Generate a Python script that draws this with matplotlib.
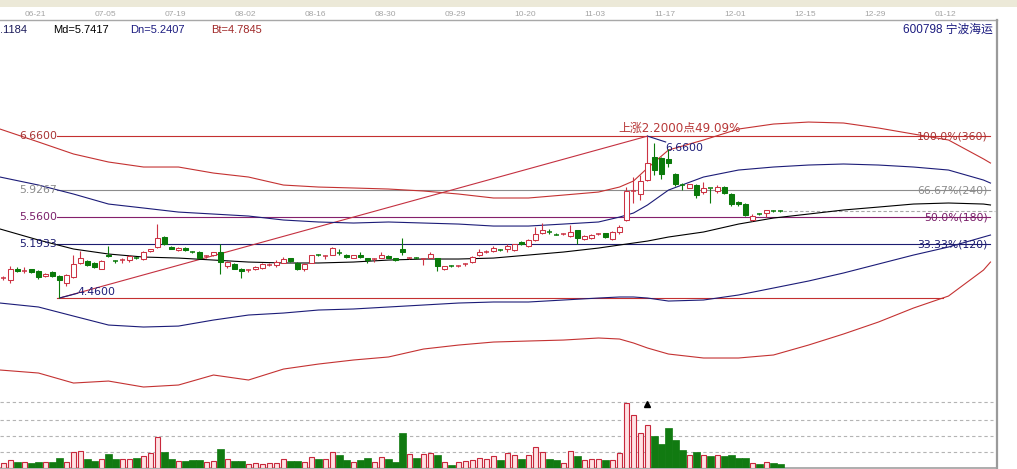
import matplotlib
matplotlib.use('Agg')
import matplotlib.pyplot as plt
import matplotlib.transforms as mtransforms
import numpy as np

W, H, DPI = 1017, 469, 100

# ---------------- data ----------------
date_labels = ['06-21', '07-05', '07-19', '08-02', '08-16', '08-30', '09-29',
               '10-20', '11-03', '11-17', '12-01', '12-15', '12-29', '01-12']

opens = [4.72, 4.70, 4.85, 4.82, 4.85, 4.83, 4.76, 4.82, 4.76, 4.66,
         4.74, 4.93, 4.96, 4.94, 4.86, 5.05, 4.97, 4.97, 4.98, 5.01,
         4.99, 5.10, 5.15, 5.29, 5.16, 5.11, 5.14, 5.09, 5.09, 5.02,
         5.04, 5.08, 4.90, 4.92, 4.86, 4.83, 4.85, 4.87, 4.90, 4.91,
         4.94, 5.00, 4.94, 4.85, 4.94, 5.05, 5.02, 5.05, 5.08, 5.05,
         5.01, 5.05, 5.00, 4.98, 5.01, 5.03, 5.00, 5.12, 5.00, 5.01,
         4.98, 5.01, 5.00, 4.85, 4.90, 4.89, 4.91, 4.95, 5.04, 5.08,
         5.10, 5.12, 5.12, 5.11, 5.225, 5.17, 5.25, 5.34, 5.37, 5.33,
         5.32, 5.30, 5.38, 5.26, 5.27, 5.32, 5.34, 5.26, 5.36, 5.52,
         5.91, 5.87, 6.06, 6.38, 6.36, 6.35, 6.14, 6.00, 5.96, 6.00,
         5.90, 5.96, 5.91, 5.97, 5.88, 5.77, 5.74, 5.52, 5.61, 5.61,
         5.65, 5.65]
highs = [4.76, 4.89, 4.88, 4.88, 4.86, 4.84, 4.80, 4.83, 4.77, 4.78,
         5.04, 5.10, 4.97, 4.95, 4.97, 5.17, 4.98, 5.01, 5.05, 5.02,
         5.10, 5.13, 5.47, 5.30, 5.17, 5.15, 5.15, 5.10, 5.10, 5.05,
         5.09, 5.19, 4.96, 4.93, 4.87, 4.85, 4.89, 4.93, 4.94, 4.97,
         5.02, 5.01, 4.95, 4.93, 5.05, 5.06, 5.04, 5.16, 5.12, 5.06,
         5.05, 5.08, 5.01, 5.01, 5.08, 5.04, 5.01, 5.27, 5.02, 5.02,
         5.00, 5.08, 5.01, 4.90, 4.91, 4.91, 4.93, 5.03, 5.13, 5.11,
         5.17, 5.13, 5.20, 5.20, 5.23, 5.26, 5.43, 5.475, 5.40, 5.34,
         5.34, 5.45, 5.39, 5.31, 5.33, 5.35, 5.35, 5.37, 5.45, 5.97,
         6.11, 6.13, 6.66, 6.56, 6.37, 6.49, 6.16, 6.02, 6.01, 6.01,
         6.03, 5.96, 5.99, 5.98, 5.89, 5.78, 5.75, 5.60, 5.61, 5.66,
         5.66, 5.66]
lows = [4.70, 4.66, 4.81, 4.80, 4.80, 4.72, 4.75, 4.75, 4.46, 4.63,
        4.73, 4.92, 4.90, 4.87, 4.85, 5.02, 4.94, 4.93, 4.95, 4.99,
        4.97, 5.09, 5.14, 5.18, 5.12, 5.10, 5.10, 5.07, 5.00, 5.01,
        5.03, 4.79, 4.87, 4.85, 4.73, 4.82, 4.84, 4.86, 4.89, 4.88,
        4.93, 4.95, 4.84, 4.83, 4.93, 5.03, 4.99, 5.04, 5.05, 5.01,
        5.00, 5.00, 4.94, 4.95, 5.00, 5.00, 4.96, 5.04, 4.99, 4.99,
        4.91, 5.00, 4.83, 4.84, 4.88, 4.88, 4.90, 4.94, 5.03, 5.07,
        5.08, 5.10, 5.09, 5.10, 5.18, 5.16, 5.24, 5.33, 5.33, 5.31,
        5.31, 5.29, 5.19, 5.25, 5.26, 5.31, 5.28, 5.25, 5.33, 5.50,
        5.755, 5.79, 6.05, 6.13, 6.08, 6.24, 5.98, 5.93, 5.95, 5.82,
        5.87, 5.745, 5.89, 5.88, 5.71, 5.71, 5.57, 5.51, 5.59, 5.56,
        5.63, 5.63]
closes = [4.73, 4.85, 4.83, 4.83, 4.81, 4.75, 4.78, 4.76, 4.70, 4.77,
          4.92, 5.01, 4.91, 4.88, 4.96, 5.03, 4.96, 4.98, 5.03, 5.00,
          5.08, 5.12, 5.27, 5.19, 5.13, 5.14, 5.11, 5.08, 5.01, 5.03,
          5.08, 4.95, 4.95, 4.86, 4.83, 4.84, 4.88, 4.92, 4.91, 4.95,
          4.99, 4.96, 4.85, 4.92, 5.04, 5.04, 5.03, 5.14, 5.07, 5.02,
          5.04, 5.02, 4.98, 4.99, 5.05, 5.01, 4.97, 5.09, 5.01, 5.00,
          4.99, 5.06, 4.89, 4.89, 4.89, 4.90, 4.92, 5.02, 5.09, 5.09,
          5.14, 5.11, 5.17, 5.19, 5.19, 5.25, 5.325, 5.39, 5.36, 5.32,
          5.33, 5.36, 5.27, 5.30, 5.32, 5.33, 5.29, 5.36, 5.43, 5.92,
          5.92, 6.05, 6.29, 6.20, 6.15, 6.30, 6.005, 5.99, 6.005, 5.86,
          5.95, 5.95, 5.97, 5.89, 5.74, 5.74, 5.59, 5.58, 5.60, 5.65,
          5.64, 5.64]
volumes = [53, 77, 57, 57, 47, 57, 57, 57, 97, 57,
           157, 167, 87, 67, 93, 137, 87, 87, 93, 97,
           117, 147, 313, 157, 87, 73, 67, 77, 77, 57,
           67, 187, 93, 67, 67, 37, 47, 37, 47, 47,
           87, 67, 67, 57, 107, 87, 93, 157, 127, 77,
           57, 77, 97, 57, 107, 87, 57, 347, 137, 97,
           143, 150, 127, 57, 33, 57, 67, 77, 103, 87,
           117, 77, 153, 127, 87, 127, 213, 163, 87, 77,
           53, 173, 117, 77, 87, 87, 77, 77, 147, 653,
           527, 353, 427, 317, 237, 397, 277, 177, 127, 157,
           127, 117, 127, 117, 127, 97, 97, 47, 37, 57,
           47, 37]
volume_grid = [157, 317, 480, 657]

band_idx = [-0.5, 5, 10, 15, 20, 25, 30, 35, 40, 45, 50, 55, 60, 65, 70, 75, 80,
            85, 88, 90, 92, 95, 100, 105, 110, 115, 120, 125, 130, 135, 140, 141]
upper_red = [6.756, 6.580, 6.417, 6.308, 6.240, 6.240, 6.158, 6.104, 5.995, 5.968,
             5.955, 5.941, 5.914, 5.873, 5.819, 5.819, 5.859, 5.900, 5.968, 6.050,
             6.226, 6.471, 6.607, 6.756, 6.824, 6.851, 6.838, 6.770, 6.688, 6.607,
             6.350, 6.294]
upper_blue = [6.104, 5.995, 5.873, 5.737, 5.683, 5.628, 5.601, 5.574, 5.520, 5.493,
              5.479, 5.493, 5.479, 5.465, 5.438, 5.438, 5.465, 5.493, 5.560, 5.615,
              5.724, 5.927, 6.104, 6.199, 6.240, 6.267, 6.281, 6.267, 6.240, 6.199,
              6.063, 6.022]
mid_black = [5.398, 5.248, 5.126, 5.058, 5.017, 5.003, 4.976, 4.949, 4.936, 4.936,
             4.949, 4.976, 4.990, 4.990, 5.003, 5.044, 5.085, 5.139, 5.180, 5.207,
             5.234, 5.289, 5.357, 5.465, 5.547, 5.601, 5.656, 5.696, 5.737, 5.751,
             5.737, 5.724]
lower_blue = [4.392, 4.338, 4.215, 4.093, 4.066, 4.079, 4.161, 4.229, 4.256, 4.297,
              4.311, 4.338, 4.365, 4.392, 4.406, 4.406, 4.433, 4.460, 4.474, 4.474,
              4.460, 4.419, 4.433, 4.501, 4.596, 4.691, 4.800, 4.922, 5.044, 5.153,
              5.289, 5.316]
lower_red = [3.482, 3.441, 3.305, 3.332, 3.251, 3.278, 3.414, 3.346, 3.495, 3.563,
             3.618, 3.659, 3.767, 3.821, 3.862, 3.876, 3.889, 3.917, 3.903, 3.849,
             3.781, 3.699, 3.645, 3.645, 3.686, 3.821, 3.971, 4.134, 4.324, 4.487,
             4.840, 4.949]

fib_levels = [6.66, 5.9267, 5.56, 5.1933, 4.46]
fib_left_labels = ['6.6600', '5.9267', '5.5600', '5.1933']
fib_right_labels = ['100.0%(360)', '66.67%(240)', '50.0%(180)', '33.33%(120)']
low_idx, high_idx = 8, 92
low_price, high_price = 4.46, 6.66
rise_label = '上涨2.2000点49.09%'
high_label = '6.6600'
low_label = '4.4600'
info_texts = ['.1184', 'Md=5.7417', 'Dn=5.2407', 'Bt=4.7845']
stock_label = '600798 宁波海运'

# ---------------- styles ----------------
RED = '#CC3344'
GREEN = '#0A7A0A'
NAVY = '#1C1C78'
BAND_RED = '#C43232'
PURPLE = '#84206C'
GRAY = '#8C8C8C'
fib_colors = ['#C43030', '#8C8C8C', PURPLE, '#1C1C70', '#C43030']
fib_text_colors = ['#A83232', '#8C8C8C', '#7A1F6A', '#1C1C70']


def rect(left, right, top, bottom):
    return [left / W, 1 - bottom / H, (right - left) / W, (bottom - top) / H]


fig = plt.figure(figsize=(W / DPI, H / DPI), dpi=DPI)
fig.patch.set_facecolor('white')

# overlay in pixel coordinates for the window chrome
ov = fig.add_axes([0, 0, 1, 1])
ov.set_xlim(0, W)
ov.set_ylim(H, 0)
ov.axis('off')
ov.add_patch(plt.Rectangle((0, 0), W, 7, color='#ECE9D8', lw=0))
ov.plot([0, 997], [20.5, 20.5], color='#A8A8A8', lw=1.0)
ov.plot([996.5, 996.5], [20.5, H], color='#9A9A9A', lw=1.6)

n = len(opens)
idx = np.arange(n)
XMIN, XMAX = -0.5, 141.93

# ---------------- price axes ----------------
ax = fig.add_axes(rect(0, 997, 38, 394))
ax.set_xlim(XMIN, XMAX)
ax.set_ylim(3.156, 7.993)
ax.patch.set_alpha(0)
ax.axis('off')

ax.plot(band_idx, upper_red, color=BAND_RED, lw=0.8, zorder=2)
ax.plot(band_idx, lower_red, color=BAND_RED, lw=0.8, zorder=2)
ax.plot(band_idx, upper_blue, color=NAVY, lw=0.8, zorder=2)
ax.plot(band_idx, lower_blue, color=NAVY, lw=0.8, zorder=2)
ax.plot(band_idx, mid_black, color='black', lw=0.8, zorder=2)

fib_end = 141.0
for k, lev in enumerate(fib_levels):
    end = fib_end if k < 4 else 134.2
    ax.plot([low_idx - 0.3, end], [lev, lev], color=fib_colors[k], lw=0.8, zorder=1.5)
for k, lab in enumerate(fib_left_labels):
    ax.text(low_idx - 0.3, fib_levels[k], lab, ha='right', va='center',
            fontsize=7.8, color=fib_text_colors[k], family='DejaVu Sans', zorder=3)
    ax.text(140.6, fib_levels[k], fib_right_labels[k], ha='right', va='center',
            fontsize=7.8, color=fib_text_colors[k], family='DejaVu Sans', zorder=3)

# trend line from low to high
ax.plot([low_idx, high_idx], [low_price, high_price], color='#C43040', lw=0.8, zorder=1.6)
ax.plot([low_idx, low_idx + 2.6], [low_price, low_price + 0.065], color=NAVY, lw=0.8, zorder=3)
ax.text(low_idx + 2.6, low_price + 0.08, low_label, ha='left', va='center', fontsize=7.8,
        color=NAVY, family='DejaVu Sans', zorder=3)
ax.plot([high_idx, high_idx + 2.6], [high_price, high_price - 0.08], color=NAVY, lw=0.8, zorder=3)
ax.text(high_idx + 2.6, high_price - 0.16, high_label, ha='left', va='center', fontsize=7.8,
        color=NAVY, family='DejaVu Sans', zorder=3)
ax.text(96.6, high_price + 0.1, rise_label, ha='center', va='center', fontsize=8.6,
        color='#B83838', family=['DejaVu Sans', 'Noto Sans CJK SC'], zorder=3)

# last close dashed line
ax.plot([n - 0.7, 141.6], [closes[-1], closes[-1]], color='#A8A8A8', lw=0.8,
        ls=(0, (3, 2)), zorder=1.5)

# candles
o = np.array(opens); c = np.array(closes); h = np.array(highs); l = np.array(lows)
up = c >= o
cols = np.where(up, RED, GREEN)
ax.vlines(idx, l, h, colors=cols, lw=0.8, zorder=4)
body_lo = np.minimum(o, c)
body_h = np.abs(c - o)
doji = body_h < 0.015
solid = ~doji
ax.bar(idx[solid & up], body_h[solid & up], bottom=body_lo[solid & up], width=0.7,
       facecolor='white', edgecolor=RED, lw=0.75, zorder=5)
ax.bar(idx[solid & ~up], body_h[solid & ~up], bottom=body_lo[solid & ~up], width=0.7,
       facecolor=GREEN, edgecolor=GREEN, lw=0.75, zorder=5)
ax.hlines(c[doji], idx[doji] - 0.38, idx[doji] + 0.38, colors=cols[doji], lw=1.1, zorder=5)

# ---------------- volume axes ----------------
av = fig.add_axes(rect(0, 997, 394, 468))
av.set_xlim(XMIN, XMAX)
av.set_ylim(0, 740)
av.patch.set_alpha(0)
av.axis('off')
for g in volume_grid:
    av.plot([XMIN, 141.4], [g, g], color='#B4B4B4', lw=0.8, ls=(0, (3, 2.5)), zorder=1)
v = np.array(volumes)
av.bar(idx[up], v[up], width=0.82, facecolor='#FFE2E4', edgecolor='#C8283C', lw=0.8, zorder=3)
av.bar(idx[~up], v[~up], width=0.86, facecolor='#117A11', edgecolor='#117A11', lw=0.5, zorder=3)
av.plot([XMIN, XMAX], [0, 0], color='#A0A0A0', lw=1.2, clip_on=False, zorder=2)
av.plot([high_idx], [640], marker='^', color='black', ms=4, zorder=4)

# ---------------- header ----------------
blend = mtransforms.blended_transform_factory(ax.transData, ov.transData)
for k, lab in enumerate(date_labels):
    ov.text(4.5 + 10 * k, 14.5, lab, transform=blend, ha='center', va='center',
            fontsize=6, color='#A4A4A4', family='Liberation Sans')

info_x = [0, 53, 130, 211]
info_cols = ['#1A1A5A', 'black', '#1C1C80', '#A02828']
for x0, t, col in zip(info_x, info_texts, info_cols):
    ov.text(x0, 30, t, ha='left', va='center', fontsize=8, color=col, family='Liberation Sans')
ov.text(993, 30, stock_label, ha='right', va='center', fontsize=8.5, color='#1C1C80',
        family=['Liberation Sans', 'Noto Sans CJK SC'])

fig.savefig('out.png', dpi=DPI)
